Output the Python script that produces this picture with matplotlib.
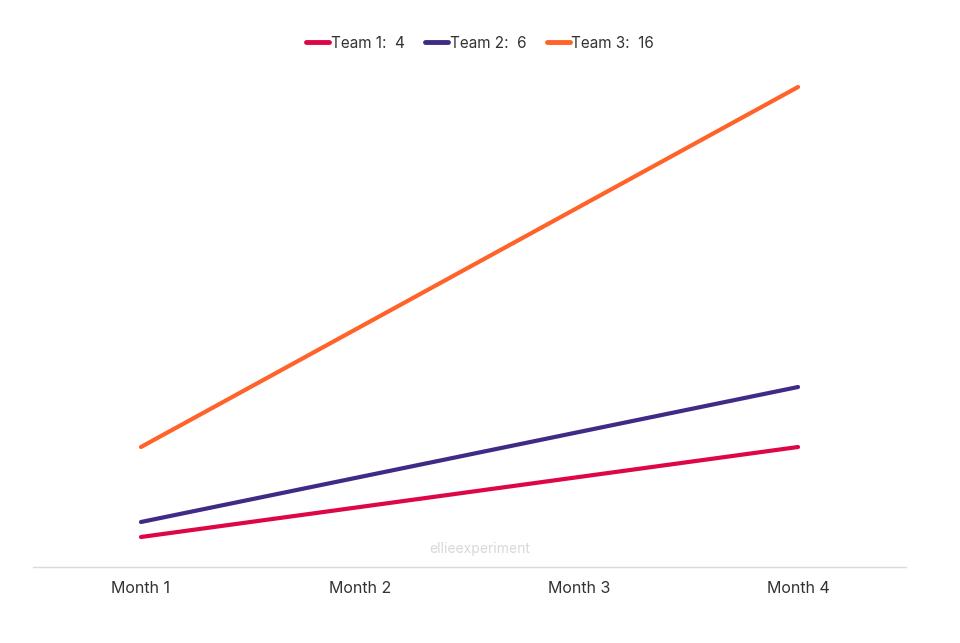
import matplotlib.pyplot as plt
from matplotlib.lines import Line2D

plt.rcParams['font.family'] = ['Inter', 'DejaVu Sans']

months = ['Month 1', 'Month 2', 'Month 3', 'Month 4']
team1 = [1, 2, 3, 4]
team2 = [1.5, 3, 4.5, 6]
team3 = [4, 8, 12, 16]
teams = ['Team 1', 'Team 2', 'Team 3']
colors = ['#DD0747', '#3F2A86', '#FF6329']

fig = plt.figure(figsize=(9.6, 6.43), dpi=100)
ax = fig.add_axes([33 / 960, 1 - 567 / 643, 873 / 960, 500 / 643])

x = range(len(months))
for vals, c in zip([team1, team2, team3], colors):
    ax.plot(x, vals, color=c, lw=3, solid_capstyle='round')

ax.set_xlim(-0.493, len(months) - 0.507)
ax.set_ylim(0, 16 * 500 / 480)
ax.set_xticks(list(x))
ax.set_xticklabels(months, fontsize=11.5, color='#333333')
ax.tick_params(axis='x', length=0, pad=10)
ax.set_yticks([])
for s in ['top', 'right', 'left']:
    ax.spines[s].set_visible(False)
ax.spines['bottom'].set_color('#d9d9d9')
ax.spines['bottom'].set_linewidth(1)

handles = [Line2D([], [], color=c, lw=3.5, solid_capstyle='round') for c in colors]
labels = [f'{t}:  {v[-1]}' for t, v in zip(teams, [team1, team2, team3])]
fig.legend(handles, labels, loc='center', bbox_to_anchor=(0.5, 1 - 43 / 643),
           ncol=3, frameon=False, fontsize=11, handlelength=1.5, handletextpad=0.1,
           columnspacing=1.35, labelcolor='#333333')

fig.text(0.5, 1 - 549 / 643, 'ellieexperiment', ha='center', va='center',
         fontsize=10, color='#d8d8d8')

fig.savefig('out.png', dpi=100)
